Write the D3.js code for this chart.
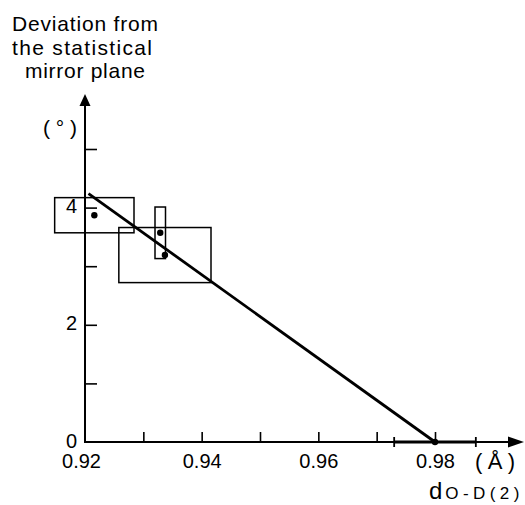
<!DOCTYPE html>
<html>
<head>
<meta charset="utf-8">
<script src="https://cdn.jsdelivr.net/npm/d3@7"></script>
<style>
  body { margin: 0; background: #fff; }
  svg text { font-family: "Liberation Sans", Arial, sans-serif; fill: #000; }
</style>
</head>
<body>
<svg id="chart" width="525" height="505"></svg>
<script>
// data
var xs      = [0.9216, 0.9337, 0.9329, 0.9800];   // d O-D(2), Å
var xErr    = [0.0068, 0.0079, 0.0009, 0.0070];
var ys      = [3.87, 3.19, 3.57, 0.00];          // deviation, degrees
var yErr    = [0.30, 0.47, 0.44, 0];
var fitX    = [0.9206, 0.9800];
var fitY    = [4.24, 0.00];
var xTicks  = [0.93, 0.94, 0.95, 0.96, 0.97, 0.98];
var xLabels = [0.92, 0.94, 0.96, 0.98];
var yTicks  = [1, 2, 3, 4, 5];
var yLabels = [0, 2, 4];

var svg = d3.select('#chart');

var x = d3.scaleLinear().domain([0.92, 0.98]).range([85, 435]);
var y = d3.scaleLinear().domain([0, 5]).range([442, 149]);

// axis lines with arrow heads
svg.append('line').attr('x1', 85).attr('y1', 442).attr('x2', 85).attr('y2', 100)
    .attr('stroke', '#000').attr('stroke-width', 2);
svg.append('path').attr('d', 'M85,94 L79.5,106 L90.5,106 Z').attr('fill', '#000');
svg.append('line').attr('x1', 84).attr('y1', 442).attr('x2', 515).attr('y2', 442)
    .attr('stroke', '#000').attr('stroke-width', 2);
svg.append('path').attr('d', 'M524,442 L508,436.5 L508,447.5 Z').attr('fill', '#000');

// tick marks (inside)
var xTickAxis = d3.axisBottom(x).tickValues(xTicks).tickSizeInner(-10).tickSizeOuter(0).tickFormat('');
svg.append('g').attr('transform', 'translate(0,442)').call(xTickAxis)
    .call(function (g) { g.select('.domain').remove(); })
    .selectAll('line').attr('stroke-width', 1.6);

var yTickAxis = d3.axisLeft(y).tickValues(yTicks).tickSizeInner(-12).tickSizeOuter(0).tickFormat('');
svg.append('g').attr('transform', 'translate(85,0)').call(yTickAxis)
    .call(function (g) { g.select('.domain').remove(); })
    .selectAll('line').attr('stroke-width', 1.6);

// tick labels
var xLabAxis = d3.axisBottom(x).tickValues(xLabels).tickSize(0).tickPadding(12)
    .tickFormat(function (d) { return d3.format('.2f')(d); });
svg.append('g').attr('transform', 'translate(0,442)').call(xLabAxis)
    .call(function (g) { g.select('.domain').remove(); })
    .selectAll('text').attr('font-size', 20).attr('dy', '0.71em')
    .attr('dx', function (d) { return d === 0.92 ? -4 : 0; });

var yLabAxis = d3.axisLeft(y).tickValues(yLabels).tickSize(0).tickPadding(8)
    .tickFormat(d3.format('d'));
svg.append('g').attr('transform', 'translate(85,0)').call(yLabAxis)
    .call(function (g) { g.select('.domain').remove(); })
    .selectAll('text').attr('font-size', 20).attr('dy', '0.25em');

// error boxes
var pts = xs.map(function (v, i) { return { x: v, y: ys[i], ex: xErr[i], ey: yErr[i] }; });

svg.selectAll('rect.err').data(pts.filter(function (d) { return d.ey > 0; }))
  .enter().append('rect').attr('class', 'err')
    .attr('x', function (d) { return x(d.x - d.ex); })
    .attr('y', function (d) { return y(d.y + d.ey); })
    .attr('width', function (d) { return x(d.x + d.ex) - x(d.x - d.ex); })
    .attr('height', function (d) { return y(d.y - d.ey) - y(d.y + d.ey); })
    .attr('fill', 'none').attr('stroke', '#000').attr('stroke-width', 1.5);

// horizontal error bar on the axis point
var flat = pts.filter(function (d) { return d.ey === 0; });
svg.selectAll('line.hbar').data(flat).enter().append('line').attr('class', 'hbar')
    .attr('x1', function (d) { return x(d.x - d.ex); })
    .attr('x2', function (d) { return x(d.x + d.ex); })
    .attr('y1', function (d) { return y(d.y); })
    .attr('y2', function (d) { return y(d.y); })
    .attr('stroke', '#000').attr('stroke-width', 3.2);
flat.forEach(function (d) {
    [d.x - d.ex, d.x + d.ex].forEach(function (v) {
        svg.append('line').attr('x1', x(v)).attr('x2', x(v))
            .attr('y1', y(d.y) - 5).attr('y2', y(d.y) + 5)
            .attr('stroke', '#000').attr('stroke-width', 1.8);
    });
});

// fitted line
svg.append('path').datum(fitX.map(function (v, i) { return [v, fitY[i]]; }))
    .attr('d', d3.line().x(function (d) { return x(d[0]); }).y(function (d) { return y(d[1]); }))
    .attr('fill', 'none').attr('stroke', '#000').attr('stroke-width', 2.8);

// points
svg.selectAll('circle.pt').data(pts).enter().append('circle').attr('class', 'pt')
    .attr('cx', function (d) { return x(d.x); })
    .attr('cy', function (d) { return y(d.y); })
    .attr('r', 3.2).attr('fill', '#000');

// titles
var title = [
    { t: 'Deviation from', x: 12, y: 31, w: 146 },
    { t: 'the statistical', x: 12, y: 55, w: 140 },
    { t: 'mirror plane', x: 25, y: 78, w: 120 }
];
svg.selectAll('text.title').data(title).enter().append('text').attr('class', 'title')
    .attr('x', function (d) { return d.x; }).attr('y', function (d) { return d.y; })
    .attr('font-size', 21)
    .attr('textLength', function (d) { return d.w; }).attr('lengthAdjust', 'spacing')
    .text(function (d) { return d.t; });

svg.append('text').attr('x', 43).attr('y', 135).attr('font-size', 21)
    .attr('textLength', 34).attr('lengthAdjust', 'spacing').text('( ° )');
svg.append('text').attr('x', 475).attr('y', 469).attr('font-size', 22)
    .attr('textLength', 40).attr('lengthAdjust', 'spacing').text('( Å )');

var xl = svg.append('text').attr('x', 429).attr('y', 499);
xl.append('tspan').attr('font-size', 24).text('d');
xl.append('tspan').attr('font-size', 17).attr('dx', 3).attr('textLength', 74)
    .attr('lengthAdjust', 'spacing').text('O-D(2)');
</script>
</body>
</html>
